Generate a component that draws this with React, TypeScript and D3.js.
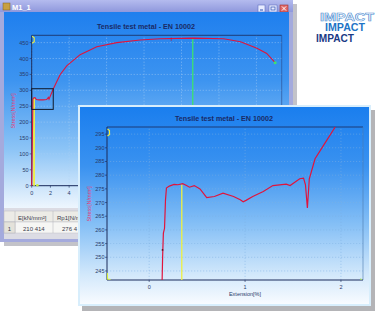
import React from "react";
import * as d3 from "d3";

// ---------- DATA ----------
// Overview chart (back window): extension [%] vs stress [N/mm²]
const backExt = [0, 0.13, 0.2, 0.35, 0.5, 0.8, 1.2, 1.6, 1.78, 1.85, 2.3, 3.03, 3.74, 5.17, 6.95, 9.09, 11.58, 13.7, 17.25, 20.5, 22.3, 24.06, 25.1, 26.0];
const backStress = [0, 272, 276, 277, 271, 270, 270, 271, 278, 272, 304, 349, 377, 412, 437, 450, 458, 462, 464, 462, 453, 432, 416, 387];
const backYTicks = [0, 50, 100, 150, 200, 250, 300, 350, 400, 450];
const backXTicks = [0, 2, 4, 6, 8, 10, 12, 14, 16, 18, 20, 22, 24, 26];
const backRm = 17.2; // green marker line
const backRp = 0.25; // yellow marker line
const zoomBox = { ext: [0, 2.3], stress: [240, 305] };

// Zoomed chart (front window)
const frontExt = [0.135, 0.14, 0.148, 0.16, 0.17, 0.18, 0.21, 0.26, 0.3, 0.35, 0.39, 0.42, 0.47, 0.53, 0.6, 0.68, 0.77, 0.88, 0.95, 0.98, 1.01, 1.08, 1.19, 1.29, 1.43, 1.47, 1.57, 1.61, 1.63, 1.65, 1.67, 1.73, 1.82, 1.94];
const frontStress = [241.7, 250, 258.8, 260.6, 270.9, 275.3, 276.0, 276.6, 276.5, 276.9, 276.2, 275.6, 276.2, 275.0, 271.8, 272.2, 273.4, 272.2, 271.0, 270.3, 270.8, 272.2, 274.0, 276.2, 276.7, 276.2, 278.7, 278.9, 276.5, 268.0, 278.7, 286, 291, 297.6];
const frontYTicks = [245, 250, 255, 260, 265, 270, 275, 280, 285, 290, 295];
const frontXTicks = [0, 1, 2];
const frontRp = 0.34;
const frontRpStress = 276.6;

const chartTitle = "Tensile test metal - EN 10002";
const yLabel = "Stress[N/mm²]";
const xLabel = "Extension[%]";
const tableHeaders = ["E[kN/mm²]", "Rp1[N/mm²]"];
const tableRow = ["1", "210 414", "276 4"];
const windowTitle = "M1_1";
const logoWords = ["IMPACT", "IMPACT", "IMPACT"];

const FONT = "'Liberation Sans', Arial, sans-serif";

export default function App() {
  // back chart scales
  const xB = d3.scaleLinear().domain([0, 26.7]).range([31.7, 281.7]);
  const yB = d3.scaleLinear().domain([0, 473]).range([185.7, 35.3]);
  // front chart scales
  const xF = d3.scaleLinear().domain([-0.44, 2.23]).range([107, 363]);
  const yF = d3.scaleLinear().domain([241.7, 297.6]).range([280, 127]);

  const backLine = d3.line<number>().x((_, i) => xB(backExt[i])).y((d) => yB(d));
  const frontLine = d3.line<number>().x((_, i) => xF(frontExt[i])).y((d) => yF(d));

  const [bx0, bx1] = xB.range();
  const [by0, by1] = yB.range();
  const [fx0, fx1] = xF.range();
  const [fy0, fy1] = yF.range();

  const lastB = backExt.length - 1;

  return (
    <svg
      width={379}
      height={314}
      style={{ position: "absolute", left: 0, top: 0, background: "#fff" }}
      fontFamily={FONT}
    >
      <defs>
        <linearGradient id="backBg" x1="0" y1="0" x2="0" y2="1">
          <stop offset="0" stopColor="#1f7fee" />
          <stop offset="0.35" stopColor="#3d94f0" />
          <stop offset="0.7" stopColor="#8cc4f6" />
          <stop offset="0.9" stopColor="#cfe6fb" />
          <stop offset="1" stopColor="#eef6fe" />
        </linearGradient>
        <linearGradient id="frontBg" x1="0" y1="0" x2="0" y2="1">
          <stop offset="0" stopColor="#1a7eee" />
          <stop offset="0.3" stopColor="#3a92f0" />
          <stop offset="0.6" stopColor="#86c0f6" />
          <stop offset="0.85" stopColor="#d2e8fb" />
          <stop offset="1" stopColor="#f8fbff" />
        </linearGradient>
        <linearGradient id="titleBar" x1="0" y1="0" x2="0" y2="1">
          <stop offset="0" stopColor="#b4bbee" />
          <stop offset="1" stopColor="#8f98dc" />
        </linearGradient>
        <clipPath id="backClip">
          <rect x={4} y={12} width={285} height={196} />
        </clipPath>
        <clipPath id="frontClip">
          <rect x={80} y={107} width={289} height={197} />
        </clipPath>
      </defs>

      {/* ---------- BACK WINDOW ---------- */}
      <rect x={4} y={4} width={293} height={242} fill="#7a7a88" opacity={0.45} />
      <rect x={0} y={0} width={293} height={242} fill="#a4aadd" />
      <rect x={0} y={0} width={293} height={12} fill="url(#titleBar)" />
      <rect x={3} y={3} width={7} height={7} fill="#c8a040" stroke="#806020" strokeWidth={0.5} />
      <text x={12} y={10} fontSize={7.5} fontWeight="bold" fill="#fff">{windowTitle}</text>
      <rect x={258} y={5} width={7} height={7} fill="#e8ecff" stroke="#6070c0" strokeWidth={0.6} />
      <rect x={260} y={9.5} width={3} height={1} fill="#3050b0" />
      <rect x={269} y={5} width={8} height={7} fill="#e8ecff" stroke="#6070c0" strokeWidth={0.6} />
      <rect x={271} y={7} width={4} height={3} fill="none" stroke="#3050b0" strokeWidth={0.7} />
      <rect x={280} y={5} width={8} height={7} fill="#e06868" stroke="#a03030" strokeWidth={0.6} />
      <path d="M282,6.5 L286,10.5 M286,6.5 L282,10.5" stroke="#fff" strokeWidth={1} />

      <rect x={4} y={12} width={285} height={196} fill="url(#backBg)" />
      <g clipPath="url(#backClip)">
        <text x={146} y={29} fontSize={7} fontWeight="bold" fill="#1a2a66" textAnchor="middle" textLength={98} lengthAdjust="spacingAndGlyphs">
          {chartTitle}
        </text>
        {/* grid */}
        {backYTicks.map((t) => (
          <line key={"bgy" + t} x1={bx0} x2={bx1} y1={yB(t)} y2={yB(t)} stroke="#b0d4f6" strokeWidth={0.6} strokeDasharray="1,2" />
        ))}
        {backXTicks.filter((t) => t % 4 === 0).map((t) => (
          <line key={"bgx" + t} x1={xB(t)} x2={xB(t)} y1={by0} y2={by1} stroke="#b0d4f6" strokeWidth={0.6} strokeDasharray="1,2" />
        ))}
        {/* frame */}
        <line x1={bx0} x2={bx1} y1={by1} y2={by1} stroke="#1a2a5a" strokeWidth={0.8} />
        <line x1={bx1} x2={bx1} y1={by1} y2={by0} stroke="#2a4a8a" strokeWidth={0.6} />
        <line x1={bx0} x2={bx0} y1={by1} y2={by0} stroke="#1a2a5a" strokeWidth={1} />
        <line x1={bx0} x2={bx1} y1={by0} y2={by0} stroke="#1a2a5a" strokeWidth={1} />
        {backYTicks.map((t) => (
          <g key={"bty" + t}>
            <line x1={bx0 - 2} x2={bx0} y1={yB(t)} y2={yB(t)} stroke="#1a2a5a" strokeWidth={0.6} />
            <text x={28.5} y={yB(t) + 2} fontSize={5.5} fill="#2a3a6a" textAnchor="end">{t}</text>
          </g>
        ))}
        {backXTicks.map((t) => (
          <g key={"btx" + t}>
            <line x1={xB(t)} x2={xB(t)} y1={by0} y2={by0 + 2} stroke="#1a2a5a" strokeWidth={0.6} />
            <text x={xB(t)} y={195} fontSize={5.5} fill="#2a3a6a" textAnchor="middle">{t}</text>
          </g>
        ))}
        <text transform={`translate(15,111) rotate(-90)`} fontSize={5.5} fill="#e0407a" textAnchor="middle">{yLabel}</text>
        {/* markers */}
        <line x1={xB(backRm)} x2={xB(backRm)} y1={by0} y2={yB(464)} stroke="#3ee070" strokeWidth={1.3} />
        <line x1={xB(backRp)} x2={xB(backRp)} y1={by0} y2={yB(276)} stroke="#f0f040" strokeWidth={1.8} />
        <path d={backLine(backStress) || ""} fill="none" stroke="#e0143c" strokeWidth={1.1} />
        <line x1={xB(14.9)} x2={xB(14.9)} y1={yB(463) - 1} y2={yB(463) + 2.5} stroke="#c01030" strokeWidth={0.6} />
        <circle cx={xB(backExt[lastB])} cy={yB(backStress[lastB])} r={1.5} fill="#3ee070" />
        <circle cx={xB(0.6)} cy={by0 - 0.5} r={1.3} fill="#c8f040" />
        <path d={`M${bx0 + 0.5},${by1 + 1} l2,1.5 v4 l-2,1.5`} fill="none" stroke="#f0f040" strokeWidth={1.1} />
        <rect
          x={xB(zoomBox.ext[0])}
          y={yB(zoomBox.stress[1])}
          width={xB(zoomBox.ext[1]) - xB(zoomBox.ext[0])}
          height={yB(zoomBox.stress[0]) - yB(zoomBox.stress[1])}
          fill="none"
          stroke="#101828"
          strokeWidth={1}
        />
      </g>
      {/* table */}
      <rect x={4} y={208} width={285} height={31} fill="#dcdce4" />
      <rect x={4} y={211} width={285} height={11} fill="#ecebe6" stroke="#b8b8c0" strokeWidth={0.5} />
      <rect x={4} y={222} width={285} height={11} fill="#f6f6f4" stroke="#c0c0c8" strokeWidth={0.5} />
      <line x1={15} x2={15} y1={211} y2={233} stroke="#b0b0b8" strokeWidth={0.5} />
      <line x1={53} x2={53} y1={211} y2={233} stroke="#b0b0b8" strokeWidth={0.5} />
      <rect x={4} y={222} width={11} height={11} fill="#e4e2da" stroke="#b0b0b8" strokeWidth={0.5} />
      <text x={18} y={219.5} fontSize={6} fill="#3a3a4a">{tableHeaders[0]}</text>
      <text x={57} y={219.5} fontSize={6} fill="#3a3a4a">{tableHeaders[1]}</text>
      <text x={9.5} y={230.5} fontSize={6} fill="#3a3a4a" textAnchor="middle">{tableRow[0]}</text>
      <text x={23} y={230.5} fontSize={6} fill="#3a3a4a">{tableRow[1]}</text>
      <text x={62} y={230.5} fontSize={6} fill="#3a3a4a">{tableRow[2]}</text>

      {/* ---------- FRONT WINDOW ---------- */}
      <rect x={82} y={110} width={293} height={201} fill="#6a6a70" opacity={0.5} />
      <rect x={78} y={105} width={293} height={201} fill="#d8eefc" />
      <rect x={80} y={107} width={289} height={197} fill="url(#frontBg)" />
      <g clipPath="url(#frontClip)">
        <text x={224} y={121} fontSize={7} fontWeight="bold" fill="#1a2a66" textAnchor="middle" textLength={98} lengthAdjust="spacingAndGlyphs">
          {chartTitle}
        </text>
        {frontYTicks.map((t) => (
          <line key={"fgy" + t} x1={fx0} x2={fx1} y1={yF(t)} y2={yF(t)} stroke="#7fb2e4" strokeWidth={0.6} strokeDasharray="1.2,1.8" opacity={0.8} />
        ))}
        {frontXTicks.map((t) => (
          <line key={"fgx" + t} x1={xF(t)} x2={xF(t)} y1={fy0} y2={fy1} stroke="#7fb2e4" strokeWidth={0.6} strokeDasharray="1.2,1.8" opacity={0.8} />
        ))}
        <line x1={fx0} x2={fx1} y1={fy1} y2={fy1} stroke="#1a2a5a" strokeWidth={0.8} />
        <line x1={fx1} x2={fx1} y1={fy1} y2={fy0} stroke="#4a78b0" strokeWidth={0.6} />
        <line x1={fx0} x2={fx0} y1={fy1} y2={fy0} stroke="#1a2a5a" strokeWidth={1} />
        <line x1={fx0} x2={fx1} y1={fy0} y2={fy0} stroke="#1a2a5a" strokeWidth={1} />
        {frontYTicks.map((t) => (
          <g key={"fty" + t}>
            <line x1={fx0 - 2} x2={fx0} y1={yF(t)} y2={yF(t)} stroke="#1a2a5a" strokeWidth={0.6} />
            <text x={104.5} y={yF(t) + 2} fontSize={5.5} fill="#2a3a6a" textAnchor="end">{t}</text>
          </g>
        ))}
        {frontXTicks.map((t) => (
          <g key={"ftx" + t}>
            <line x1={xF(t)} x2={xF(t)} y1={fy0} y2={fy0 + 2} stroke="#1a2a5a" strokeWidth={0.6} />
            <text x={xF(t)} y={289} fontSize={5.5} fill="#2a3a6a" textAnchor="middle">{t}</text>
          </g>
        ))}
        <text x={245} y={296} fontSize={5.5} fill="#2a3a6a" textAnchor="middle">{xLabel}</text>
        <text transform={`translate(91,204) rotate(-90)`} fontSize={5.5} fill="#e0407a" textAnchor="middle">{yLabel}</text>
        <line x1={xF(frontRp)} x2={xF(frontRp)} y1={fy0} y2={yF(frontRpStress)} stroke="#eef040" strokeWidth={1.3} />
        <path d={frontLine(frontStress) || ""} fill="none" stroke="#e0143c" strokeWidth={1.2} />
        <circle cx={xF(0.139)} cy={yF(252.7)} r={0.9} fill="#601020" />
        <path d={`M${fx0 + 0.5},${fy1 + 2} l2,1.5 v4 l-2,1.5`} fill="none" stroke="#f0f040" strokeWidth={1.1} />
        <path d={`M${fx0 + 0.5},${fy0 - 7} v6 l3,0.5`} fill="none" stroke="#d8f040" strokeWidth={1.1} />
        <path d={`M${fx1 - 3},${fy0 - 1} l2,0.5`} fill="none" stroke="#a0e060" strokeWidth={1} />
      </g>

      {/* ---------- LOGO ---------- */}
      <text x={320} y={20.5} fontSize={10.5} fontWeight="bold" fill="#f4f8ff" stroke="#4f8ed0" strokeWidth={0.55} textLength={54} lengthAdjust="spacingAndGlyphs">
        {logoWords[0]}
      </text>
      <text x={325} y={31} fontSize={10.5} fontWeight="bold" fill="#1e74c6" textLength={40} lengthAdjust="spacingAndGlyphs">
        {logoWords[1]}
      </text>
      <text x={316} y={41.5} fontSize={10.5} fontWeight="bold" fill="#1a3a86" textLength={38} lengthAdjust="spacingAndGlyphs">
        {logoWords[2]}
      </text>
    </svg>
  );
}
